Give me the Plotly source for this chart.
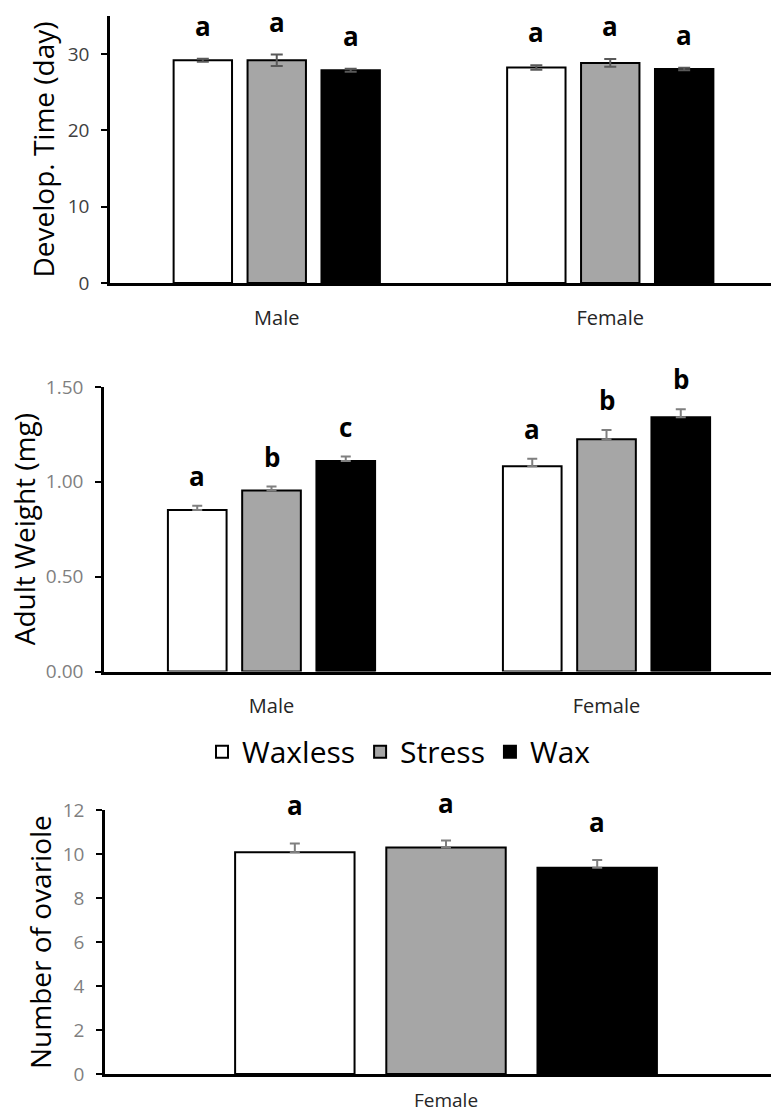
import plotly.graph_objects as go

W, H = 771, 1115

treatments = ["Waxless", "Stress", "Wax"]
colors = ["#FFFFFF", "#A6A6A6", "#000000"]

sexes = ["Male", "Female"]
dev_time = {"Waxless": [29.2, 28.25], "Stress": [29.2, 28.85], "Wax": [27.9, 28.05]}
dev_err = {"Waxless": [0.2, 0.3], "Stress": [0.75, 0.5], "Wax": [0.2, 0.15]}
dev_letters = {"Waxless": ["a", "a"], "Stress": ["a", "a"], "Wax": ["a", "a"]}

weight = {"Waxless": [0.852, 1.082], "Stress": [0.954, 1.224], "Wax": [1.110, 1.341]}
weight_err = {"Waxless": [0.022, 0.040], "Stress": [0.021, 0.049], "Wax": [0.023, 0.042]}
weight_letters = {"Waxless": ["a", "a"], "Stress": ["b", "b"], "Wax": ["c", "b"]}

ovary_cat = ["Female"]
ovariole = {"Waxless": [10.08], "Stress": [10.29], "Wax": [9.38]}
ovariole_err = {"Waxless": [0.40], "Stress": [0.32], "Wax": [0.35]}
ovariole_letters = {"Waxless": ["a"], "Stress": ["a"], "Wax": ["a"]}

BARGAP = 0.335
GROUPGAP = 0.21

panels = [
    dict(xa="x", ya="y", cats=sexes, vals=dev_time, errs=dev_err, letters=dev_letters, sym=True,
         ecol="#595959", xdom=[110 / W, 1], ydom=[1 - 283 / H, 1 - 16 / H], xr=[-0.5, 1.482],
         yr=[0, 35], dtick=10, fmt="", tcol="#404040", title="Develop. Time (day)", tx=42, shift=13,
         xfs=20, xso=15),
    dict(xa="x2", ya="y2", cats=sexes, vals=weight, errs=weight_err, letters=weight_letters, sym=False,
         ecol="#7F7F7F", xdom=[104 / W, 1], ydom=[1 - 671.5 / H, 1 - 387 / H], xr=[-0.5, 1.491],
         yr=[0, 1.5], dtick=0.5, fmt=".2f", tcol="#7F7F7F", title="Adult Weight (mg)", tx=24, shift=10,
         xfs=20, xso=14),
    dict(xa="x3", ya="y3", cats=ovary_cat, vals=ovariole, errs=ovariole_err, letters=ovariole_letters, sym=False,
         ecol="#7F7F7F", xdom=[105 / W, 1], ydom=[1 - 1074 / H, 1 - 810 / H], xr=[-0.5, 0.4765],
         yr=[0, 12], dtick=2, fmt="", tcol="#7F7F7F", title="Number of ovariole", tx=40, shift=18,
         xfs=19, xso=7),
]

fig = go.Figure()
annotations = []
layout = {}

for pi, p in enumerate(panels):
    axis_px = (p["xdom"][1] - p["xdom"][0]) * W
    cat_px = axis_px / (p["xr"][1] - p["xr"][0])
    slot = cat_px * (1 - BARGAP) / 3
    for ti, t in enumerate(treatments):
        up = p["errs"][t]
        ey = dict(type="data", array=up, color=p["ecol"], thickness=2, width=5)
        if p["sym"]:
            ey["symmetric"] = True
            ey["width"] = 6
        else:
            ey["symmetric"] = False
            ey["arrayminus"] = [0] * len(up)
        fig.add_trace(go.Bar(
            x=p["cats"], y=p["vals"][t], name=t, xaxis=p["xa"], yaxis=p["ya"],
            marker=dict(color=colors[ti], line=dict(color="#000000", width=2)),
            error_y=ey, legendgroup=t, showlegend=(pi == 0),
        ))
        for ci, c in enumerate(p["cats"]):
            annotations.append(dict(
                x=c, y=p["vals"][t][ci] + up[ci], xref=p["xa"], yref=p["ya"],
                text="<b>%s</b>" % p["letters"][t][ci], showarrow=False,
                xshift=(ti - 1) * slot, yshift=p["shift"], yanchor="bottom",
                font=dict(family="Open Sans", size=26, color="#000000"),
            ))
    annotations.append(dict(
        x=p["tx"] / W, y=(p["ydom"][0] + p["ydom"][1]) / 2, xref="paper", yref="paper",
        text=p["title"], textangle=-90, showarrow=False, xanchor="center", yanchor="middle",
        font=dict(family="Open Sans", size=28, color="#000000"),
    ))
    xk = "xaxis" if pi == 0 else "xaxis%d" % (pi + 1)
    yk = "yaxis" if pi == 0 else "yaxis%d" % (pi + 1)
    layout[xk] = dict(
        domain=p["xdom"], range=p["xr"], anchor=p["ya"], showline=True, linecolor="#000000",
        linewidth=3, ticks="", showgrid=False, zeroline=False, type="category",
        tickfont=dict(family="Open Sans", size=p["xfs"], color="#262626"), ticklabelstandoff=p["xso"],
        automargin=False, fixedrange=True,
    )
    layout[yk] = dict(
        domain=p["ydom"], range=p["yr"], anchor=p["xa"], showline=True, linecolor="#000000",
        linewidth=2.5, ticks="outside", ticklen=6, tickwidth=2, tickcolor="#000000",
        dtick=p["dtick"], tick0=0, tickformat=p["fmt"], showgrid=False, zeroline=False,
        tickfont=dict(family="Open Sans", size=19, color=p["tcol"]), ticklabelstandoff=8,
        automargin=False, fixedrange=True,
    )

fig.update_layout(
    width=W, height=H, margin=dict(l=0, r=0, t=0, b=0, autoexpand=False),
    paper_bgcolor="#FFFFFF", plot_bgcolor="#FFFFFF",
    barmode="group", bargap=BARGAP, bargroupgap=GROUPGAP,
    annotations=annotations,
    legend=dict(orientation="h", x=399 / W, y=1 - 751.7 / H, xanchor="center", yanchor="middle",
                font=dict(family="Open Sans", size=30, color="#000000"), traceorder="normal",
                itemclick=False, itemdoubleclick=False),
    showlegend=True,
    **layout,
)

fig.write_html("out.html")
